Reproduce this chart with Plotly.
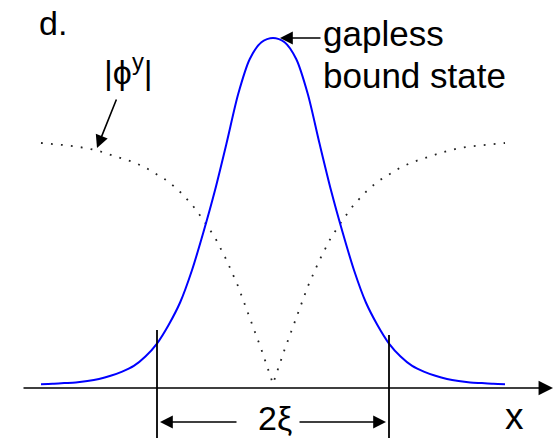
import plotly.graph_objects as go

# position along the chain, in units of the coherence length xi
x_pos = [-2.0, -1.9, -1.8, -1.7, -1.6, -1.5, -1.4, -1.3, -1.2, -1.1,
         -1.0, -0.9, -0.8, -0.7, -0.6, -0.5, -0.4, -0.3, -0.2, -0.1,
         0.0, 0.1, 0.2, 0.3, 0.4, 0.5, 0.6, 0.7, 0.8, 0.9,
         1.0, 1.1, 1.2, 1.3, 1.4, 1.5, 1.6, 1.7, 1.8, 1.9, 2.0]

# amplitude of the gapless bound state (normalised to its peak)
bound_state = [0.011, 0.012, 0.014, 0.016, 0.020, 0.026, 0.035, 0.047, 0.063, 0.090,
               0.127, 0.180, 0.245, 0.335, 0.445, 0.565, 0.700, 0.840, 0.940, 0.988,
               1.000, 0.988, 0.940, 0.840, 0.700, 0.565, 0.445, 0.335, 0.245, 0.180,
               0.127, 0.090, 0.063, 0.047, 0.035, 0.026, 0.020, 0.016, 0.014, 0.012, 0.011]

# |phi^y| order-parameter profile
phi_y = [0.700, 0.698, 0.694, 0.690, 0.685, 0.677, 0.667, 0.657, 0.645, 0.630,
         0.610, 0.590, 0.560, 0.525, 0.480, 0.430, 0.365, 0.290, 0.200, 0.110,
         0.012, 0.110, 0.200, 0.290, 0.365, 0.430, 0.480, 0.525, 0.560, 0.590,
         0.610, 0.630, 0.645, 0.657, 0.667, 0.677, 0.685, 0.690, 0.694, 0.698, 0.700]

XI = 1.0  # half-width marked by the 2xi bracket

# page layout: pixel <-> data mapping used to place labels and decorations
W, H = 558, 443
X0PX, XSCALE = 273.0, 116.0
Y0PX, YSCALE = 388.0, 350.0


def fx(px):
    return (px - X0PX) / XSCALE


def fy(py):
    return (Y0PX - py) / YSCALE


FONT = "Liberation Sans, Arial, Helvetica, sans-serif"

fig = go.Figure()

fig.add_trace(go.Scatter(
    x=x_pos, y=phi_y, mode="lines",
    line=dict(color="rgb(35,35,35)", width=1.8, dash="1.8px,8.2px"),
    hoverinfo="skip", showlegend=False,
))
fig.add_trace(go.Scatter(
    x=x_pos, y=bound_state, mode="lines",
    line=dict(color="rgb(0,0,255)", width=2, shape="spline", smoothing=0.8),
    hoverinfo="skip", showlegend=False,
))

# vertical markers at +/- xi
fig.add_shape(type="line", x0=-XI, x1=-XI, y0=fy(438), y1=fy(330),
              line=dict(color="black", width=1.8))
fig.add_shape(type="line", x0=XI, x1=XI, y0=fy(438), y1=fy(335),
              line=dict(color="black", width=1.8))

annotations = []

# x axis with arrow
annotations.append(dict(x=fx(553), y=0, ax=fx(22), ay=0, axref="x", ayref="y",
                        xref="x", yref="y", text="", showarrow=True,
                        arrowhead=2, arrowsize=1.7, arrowwidth=1.7, arrowcolor="black"))

# 2xi bracket arrows
annotations.append(dict(x=-XI + fx(160) - fx(157), y=fy(422), ax=78, ay=0,
                        xref="x", yref="y", text="", showarrow=True,
                        arrowhead=2, arrowsize=1.6, arrowwidth=1.6, arrowcolor="black"))
annotations.append(dict(x=XI - (fx(160) - fx(157)), y=fy(422), ax=-88, ay=0,
                        xref="x", yref="y", text="", showarrow=True,
                        arrowhead=2, arrowsize=1.6, arrowwidth=1.6, arrowcolor="black"))

# pointer to the bound state peak
annotations.append(dict(x=fx(280), y=fy(38), ax=42, ay=0,
                        xref="x", yref="y", text="", showarrow=True,
                        arrowhead=2, arrowsize=1.6, arrowwidth=1.6, arrowcolor="black"))

# pointer to |phi^y|
annotations.append(dict(x=fx(97), y=fy(148), ax=20, ay=-50,
                        xref="x", yref="y", text="", showarrow=True,
                        arrowhead=2, arrowsize=1.6, arrowwidth=1.6, arrowcolor="black"))


def label(text, px, py, size, xanchor="center"):
    annotations.append(dict(x=fx(px), y=fy(py), xref="x", yref="y", text=text,
                            showarrow=False, xanchor=xanchor, yanchor="middle",
                            font=dict(family=FONT, size=size, color="black")))


label("d.", 37, 23, 34, xanchor="left")
label("|\u03d5<sup>y</sup>|", 128, 69, 34)
label("gapless", 321, 33, 35, xanchor="left")
label("bound state", 321, 75, 35, xanchor="left")
label("2\u03be", 275, 418, 34)
label("x", 514, 416, 37)

fig.update_layout(
    width=W, height=H,
    margin=dict(l=0, r=0, t=0, b=0),
    paper_bgcolor="white", plot_bgcolor="white",
    xaxis=dict(range=[fx(0), fx(W)], visible=False, fixedrange=True),
    yaxis=dict(range=[fy(H), fy(0)], visible=False, fixedrange=True),
    annotations=annotations,
    showlegend=False,
)

fig.write_html("out.html", config={"displayModeBar": False})
